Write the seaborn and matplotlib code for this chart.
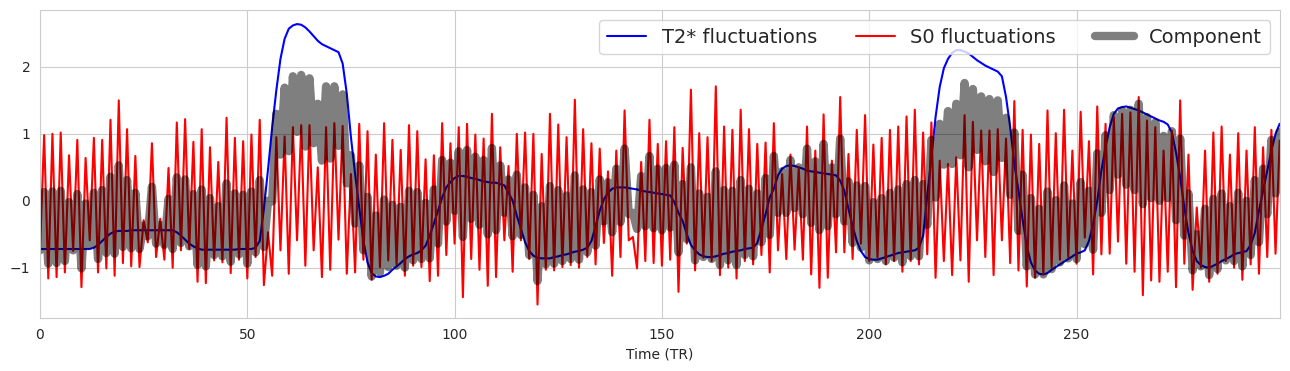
import numpy as np
import matplotlib
import matplotlib.pyplot as plt
import seaborn as sns

matplotlib.use('Agg')

# values, one per TR
t2_fluct = [
    -0.72, -0.72, -0.72, -0.72, -0.72, -0.72, -0.72, -0.72, -0.72, -0.72,
    -0.72, -0.72, -0.72, -0.70, -0.66, -0.60, -0.54, -0.49, -0.46, -0.45,
    -0.45, -0.45, -0.44, -0.44, -0.44, -0.44, -0.44, -0.44, -0.44, -0.44,
    -0.44, -0.44, -0.44, -0.47, -0.52, -0.58, -0.64, -0.68, -0.71, -0.73,
    -0.73, -0.73, -0.73, -0.73, -0.73, -0.73, -0.73, -0.73, -0.72, -0.72,
    -0.72, -0.72, -0.70, -0.60, -0.12, 0.47, 1.10, 1.65, 2.12, 2.42,
    2.57, 2.62, 2.64, 2.63, 2.59, 2.53, 2.46, 2.39, 2.34, 2.31,
    2.28, 2.25, 2.22, 2.05, 1.60, 0.95, 0.40, -0.10, -0.60, -0.92,
    -1.08, -1.13, -1.14, -1.12, -1.09, -1.03, -0.98, -0.93, -0.87, -0.83,
    -0.80, -0.78, -0.74, -0.67, -0.52, -0.34, -0.15, 0.05, 0.20, 0.28,
    0.34, 0.37, 0.37, 0.36, 0.34, 0.33, 0.31, 0.29, 0.28, 0.27,
    0.27, 0.25, 0.23, 0.12, 0.00, -0.22, -0.42, -0.62, -0.75, -0.82,
    -0.85, -0.86, -0.86, -0.86, -0.84, -0.83, -0.81, -0.80, -0.78, -0.76,
    -0.75, -0.73, -0.70, -0.60, -0.38, -0.15, 0.02, 0.12, 0.18, 0.20,
    0.20, 0.20, 0.19, 0.18, 0.17, 0.15, 0.14, 0.13, 0.12, 0.11,
    0.10, 0.09, 0.08, -0.02, -0.18, -0.30, -0.50, -0.66, -0.74, -0.80,
    -0.83, -0.84, -0.84, -0.83, -0.81, -0.79, -0.78, -0.76, -0.75, -0.74,
    -0.72, -0.71, -0.70, -0.63, -0.42, -0.20, 0.05, 0.18, 0.38, 0.48,
    0.52, 0.53, 0.52, 0.50, 0.48, 0.45, 0.44, 0.43, 0.42, 0.41,
    0.40, 0.39, 0.38, 0.30, 0.15, -0.12, -0.38, -0.60, -0.75, -0.84,
    -0.87, -0.88, -0.88, -0.86, -0.84, -0.82, -0.80, -0.78, -0.77, -0.76,
    -0.75, -0.74, -0.70, -0.52, 0.08, 0.65, 1.25, 1.70, 1.98, 2.12,
    2.21, 2.25, 2.25, 2.23, 2.20, 2.15, 2.10, 2.06, 2.02, 1.99,
    1.96, 1.93, 1.86, 1.55, 1.10, 0.55, 0.15, -0.28, -0.68, -0.92,
    -1.04, -1.09, -1.10, -1.08, -1.03, -0.99, -0.95, -0.91, -0.87, -0.83,
    -0.79, -0.77, -0.74, -0.60, -0.35, 0.00, 0.45, 0.80, 1.10, 1.30,
    1.38, 1.40, 1.41, 1.39, 1.37, 1.35, 1.32, 1.29, 1.26, 1.23,
    1.20, 1.18, 1.14, 1.02, 0.72, 0.35, -0.10, -0.48, -0.75, -0.90,
    -0.96, -0.99, -1.00, -0.97, -0.94, -0.90, -0.87, -0.84, -0.80, -0.78,
    -0.77, -0.75, -0.66, -0.48, -0.15, 0.15, 0.45, 0.75, 1.00, 1.15,
]

s0_fluct = [
    -0.75, 0.98, -1.16, 1.00, -1.14, 1.02, -1.07, 0.68, -0.75, 0.91,
    -1.29, 0.64, -0.59, 0.94, -1.07, 0.91, -1.01, 1.21, -1.12, 1.50,
    -0.93, 1.07, -0.98, 0.67, -0.99, -0.29, -0.62, 0.86, -0.84, -0.27,
    -0.88, 0.49, -1.00, 1.17, -0.74, 1.22, -0.72, 0.88, -1.21, 1.07,
    -1.23, 0.80, -0.89, 0.58, -0.92, 1.24, -1.08, 0.94, -0.88, 0.89,
    -1.16, 0.99, -0.84, 1.21, -1.26, -0.47, -1.12, 0.95, -0.74, 0.96,
    -1.09, 1.10, -0.59, 1.13, -0.97, 1.13, -0.74, 0.50, -1.14, 1.10,
    -1.03, 1.16, -0.58, 1.12, -1.09, 0.40, -1.07, 1.15, -0.88, 1.04,
    -1.18, 0.69, -0.99, 1.16, -0.89, 0.91, -0.95, 0.76, -1.12, 1.13,
    -0.97, 1.04, -0.99, 0.62, -1.20, 0.68, -1.12, 1.16, -0.81, 0.86,
    -0.64, 1.10, -1.44, 1.15, -0.87, 0.99, -1.03, 0.93, -1.27, 1.30,
    -1.14, 0.80, -0.59, 0.52, -1.06, 1.00, -0.59, 1.02, -0.87, 1.00,
    -1.55, 0.70, -1.03, 1.30, -1.04, 1.14, -0.99, 0.95, -0.96, 1.51,
    -1.00, 1.07, -0.84, 0.86, -0.95, 0.78, -0.63, 0.44, -1.12, 0.75,
    -0.84, 1.35, -0.59, -0.54, -1.01, 0.58, -0.90, 1.21, -0.93, 0.85,
    -0.97, 0.89, -0.88, 1.10, -1.36, 0.79, -0.64, 1.66, -1.04, 1.01,
    -0.85, 0.95, -0.90, 1.71, -1.11, 1.11, -1.00, 1.06, -1.16, 1.36,
    -0.90, 1.07, -0.95, 0.85, -0.81, 0.87, -1.07, 1.16, -0.74, 0.40,
    -0.87, 0.69, -0.73, 0.50, -0.88, 1.11, -1.10, 0.75, -1.30, 1.29,
    -1.15, 0.60, -0.77, 1.55, -0.77, 0.70, -0.87, 1.06, -0.64, 1.28,
    -0.90, 0.84, -0.85, 0.94, -0.95, 1.06, -0.90, 1.11, -1.06, 1.26,
    -0.90, 1.36, -0.95, 1.02, -0.80, 1.17, -1.15, 0.60, -0.90, 0.55,
    -1.11, 0.65, -0.89, 1.28, -1.21, 1.18, -0.59, 1.05, -0.84, 1.05,
    -1.11, 1.07, -0.59, 0.93, -0.93, 1.49, -1.04, 1.06, -1.28, 0.99,
    -1.15, 0.85, -1.10, 1.35, -1.00, 1.01, -0.88, 1.36, -0.84, 0.75,
    -0.94, 1.33, -0.55, 0.89, -1.10, 1.41, -0.80, 1.15, -0.79, 1.25,
    -0.61, 1.30, -0.94, 1.32, -1.06, 1.55, -1.41, 1.20, -1.19, 1.10,
    -1.21, 0.75, -1.06, 1.05, -1.29, 1.50, -0.94, 0.69, -1.33, -0.10,
    -1.00, 0.75, -1.21, 1.02, -1.09, 1.11, -0.90, 0.69, -1.00, 1.01,
    -1.18, 0.75, -0.95, 1.10, -1.09, 0.80, -0.84, 1.06, -0.79, 0.90,
]

component = [
    -0.74, 0.13, -0.94, 0.14, -0.93, 0.15, -0.90, -0.02, -0.74, 0.10,
    -1.01, -0.04, -0.66, 0.12, -0.87, 0.16, -0.78, 0.36, -0.79, 0.53,
    -0.69, 0.31, -0.71, 0.12, -0.72, -0.37, -0.53, 0.21, -0.64, -0.36,
    -0.66, 0.03, -0.72, 0.35, -0.63, 0.32, -0.68, 0.10, -0.96, 0.17,
    -0.98, 0.04, -0.81, -0.08, -0.83, 0.26, -0.91, 0.11, -0.80, 0.09,
    -0.94, 0.14, -0.77, 0.31, -0.69, 0.00, -0.01, 1.30, 0.69, 1.69,
    0.74, 1.86, 1.03, 1.88, 0.81, 1.83, 0.86, 1.45, 0.60, 1.71,
    0.63, 1.71, 0.82, 1.59, 0.26, 0.68, -0.34, 0.53, -0.74, 0.06,
    -1.13, -0.22, -1.07, 0.02, -0.99, -0.06, -0.97, -0.09, -1.00, 0.15,
    -0.89, 0.13, -0.87, -0.03, -0.86, 0.17, -0.64, 0.61, -0.31, 0.57,
    -0.15, 0.74, -0.54, 0.76, -0.27, 0.66, -0.36, 0.61, -0.50, 0.79,
    -0.44, 0.53, -0.18, 0.32, -0.53, 0.39, -0.51, 0.20, -0.81, 0.09,
    -1.20, -0.08, -0.95, 0.22, -0.94, 0.16, -0.90, 0.08, -0.87, 0.38,
    -0.88, 0.17, -0.77, 0.13, -0.67, 0.32, -0.31, 0.28, -0.47, 0.48,
    -0.32, 0.78, -0.20, -0.18, -0.42, 0.37, -0.38, 0.67, -0.41, 0.48,
    -0.44, 0.49, -0.40, 0.54, -0.77, 0.25, -0.57, 0.50, -0.89, 0.11,
    -0.84, 0.06, -0.87, 0.44, -0.96, 0.16, -0.89, 0.15, -0.96, 0.31,
    -0.81, 0.18, -0.83, 0.11, -0.62, 0.34, -0.51, 0.67, -0.18, 0.44,
    -0.18, 0.61, -0.11, 0.50, -0.20, 0.78, -0.33, 0.59, -0.44, 0.85,
    -0.38, 0.50, -0.20, 0.93, -0.31, 0.29, -0.63, 0.23, -0.70, 0.22,
    -0.89, -0.02, -0.87, 0.04, -0.90, 0.12, -0.85, 0.17, -0.92, 0.25,
    -0.83, 0.31, -0.83, 0.25, -0.36, 0.91, 0.05, 1.15, 0.54, 1.34,
    0.55, 1.45, 0.68, 1.76, 0.50, 1.67, 0.76, 1.56, 0.59, 1.52,
    0.43, 1.50, 0.64, 1.24, 0.09, 1.02, -0.45, 0.39, -0.98, 0.04,
    -1.10, -0.12, -1.10, 0.14, -1.02, 0.01, -0.92, 0.23, -0.86, -0.04,
    -0.87, 0.28, -0.65, 0.15, -0.73, 0.71, -0.18, 0.98, 0.16, 1.28,
    0.39, 1.35, 0.24, 1.36, 0.16, 1.45, -0.05, 1.25, 0.04, 1.17,
    0.00, 0.97, 0.04, 1.04, -0.29, 0.93, -0.52, 0.11, -1.04, -0.50,
    -0.98, -0.12, -1.11, 0.03, -1.02, 0.11, -0.89, -0.08, -0.90, 0.12,
    -0.98, 0.00, -0.81, 0.31, -0.62, 0.48, -0.20, 0.91, 0.11, 1.03,
]

tr = np.arange(len(s0_fluct))

sns.set_style('whitegrid')
plt.rcParams['font.family'] = ['DejaVu Sans']

fig, ax = plt.subplots(figsize=(12.9, 3.71), dpi=100)
sns.lineplot(x=tr, y=t2_fluct, color='blue', linewidth=1.5, label='T2* fluctuations', ax=ax)
sns.lineplot(x=tr, y=s0_fluct, color='red', linewidth=1.5, label='S0 fluctuations', ax=ax)
sns.lineplot(x=tr, y=component, color='k', alpha=0.5, linewidth=6, label='Component', ax=ax)

ax.set_xlim(0, 299)
ax.set_ylim(-1.75, 2.85)
ax.set_yticks([-1, 0, 1, 2])
ax.set_xlabel('Time (TR)')
ax.legend(loc='upper right', ncol=3, fontsize=14)

plt.subplots_adjust(left=0.031, right=0.992, top=0.973, bottom=0.143)
plt.savefig('out.png')
plt.close()
